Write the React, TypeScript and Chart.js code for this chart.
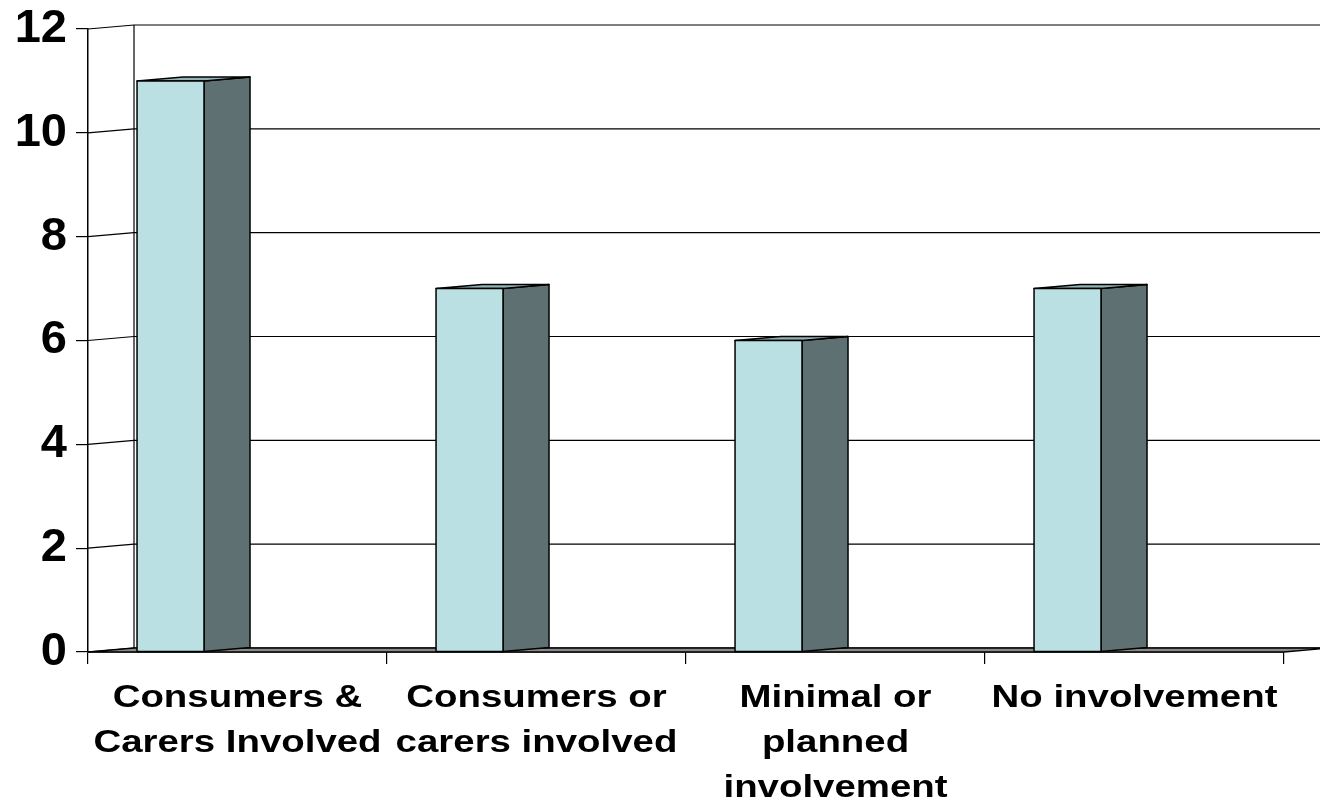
import React, { useEffect, useRef } from "react";
import { Chart, registerables } from "chart.js";

Chart.register(...registerables);

// ---- data ----
const categories: string[][] = [
  ["Consumers &", "Carers Involved"],
  ["Consumers or", "carers involved"],
  ["Minimal or", "planned", "involvement"],
  ["No involvement"],
];
const seriesValues: number[] = [11, 7, 6, 7];
const emptySeries: (number | null)[] = [null, null, null, null];
const yMin = 0;
const yMax = 12;
const yStep = 2;

const FONT = "'Liberation Sans', Arial, Helvetica, sans-serif";
const DX = 46;
const DY = 4;

const threeDPlugin = {
  id: "threeD",
  beforeDatasetsDraw(chart: any) {
    const { ctx, chartArea, scales } = chart;
    const y = scales.y;
    const left = chartArea.left;
    const right = chartArea.right;
    ctx.save();
    ctx.strokeStyle = "#000";
    ctx.lineWidth = 1.2;
    // back wall grid lines + side wall slants
    y.ticks.forEach((t: any) => {
      const fy = y.getPixelForValue(t.value);
      ctx.beginPath();
      ctx.moveTo(left, fy);
      ctx.lineTo(left + DX, fy - DY);
      ctx.lineTo(right + DX, fy - DY);
      ctx.stroke();
    });
    // back wall left edge
    const topY = y.getPixelForValue(yMax) - DY;
    const baseY = y.getPixelForValue(0);
    ctx.beginPath();
    ctx.moveTo(left + DX, topY);
    ctx.lineTo(left + DX, baseY - DY);
    ctx.stroke();
    // floor
    ctx.beginPath();
    ctx.moveTo(left, baseY);
    ctx.lineTo(right, baseY);
    ctx.lineTo(right + DX, baseY - DY);
    ctx.lineTo(left + DX, baseY - DY);
    ctx.closePath();
    ctx.fillStyle = "#8a8a8a";
    ctx.fill();
    ctx.lineWidth = 1.3;
    ctx.stroke();
    ctx.restore();
  },
  afterDatasetsDraw(chart: any) {
    const { ctx } = chart;
    const meta = chart.getDatasetMeta(0);
    ctx.save();
    ctx.lineWidth = 1.5;
    ctx.lineJoin = "round";
    ctx.strokeStyle = "#000";
    meta.data.forEach((bar: any) => {
      const p = bar.getProps(["x", "y", "width", "base"], true);
      const x0 = p.x - p.width / 2;
      const x1 = p.x + p.width / 2;
      const top = p.y;
      const base = p.base;
      // side face
      ctx.beginPath();
      ctx.moveTo(x1, top);
      ctx.lineTo(x1 + DX, top - DY);
      ctx.lineTo(x1 + DX, base - DY);
      ctx.lineTo(x1, base);
      ctx.closePath();
      ctx.fillStyle = "#5e7072";
      ctx.fill();
      ctx.stroke();
      // top face
      ctx.beginPath();
      ctx.moveTo(x0, top);
      ctx.lineTo(x0 + DX, top - DY);
      ctx.lineTo(x1 + DX, top - DY);
      ctx.lineTo(x1, top);
      ctx.closePath();
      ctx.fillStyle = "#93b2b5";
      ctx.fill();
      ctx.stroke();
      // front face
      ctx.beginPath();
      ctx.rect(x0, top, x1 - x0, base - top);
      ctx.fillStyle = "#bae0e3";
      ctx.fill();
      ctx.stroke();
    });
    ctx.restore();
  },
  afterDraw(chart: any) {
    const { ctx, scales } = chart;
    const x = scales.x;
    ctx.save();
    ctx.fillStyle = "#000";
    ctx.font = `bold 32px ${FONT}`;
    ctx.textAlign = "center";
    ctx.textBaseline = "alphabetic";
    categories.forEach((lines, i) => {
      const cx = x.getPixelForTick(i);
      lines.forEach((line, k) => {
        ctx.save();
        ctx.translate(cx, x.top + 55 + k * 45);
        ctx.scale(1.2, 1);
        ctx.fillText(line, 0, 0);
        ctx.restore();
      });
    });
    ctx.restore();
  },
};

export default function App() {
  const ref = useRef<HTMLCanvasElement | null>(null);
  useEffect(() => {
    if (!ref.current) return;
    const chart = new Chart(ref.current, {
      type: "bar",
      data: {
        labels: categories.map((c) => c.join(" ")),
        datasets: [
          {
            label: "Series 1",
            data: seriesValues,
            backgroundColor: "rgba(0,0,0,0)",
            borderWidth: 0,
          },
          {
            label: "Series 2",
            data: emptySeries,
            backgroundColor: "rgba(0,0,0,0)",
            borderWidth: 0,
          },
        ],
      },
      options: {
        animation: false,
        responsive: true,
        maintainAspectRatio: false,
        datasets: {
          bar: { categoryPercentage: 0.896, barPercentage: 0.5 },
        },
        layout: { padding: { top: 29, right: 36, left: 0, bottom: 0 } },
        plugins: {
          legend: { display: false },
          tooltip: { enabled: false },
        },
        scales: {
          x: {
            offset: true,
            grid: {
              offset: true,
              drawOnChartArea: false,
              drawTicks: true,
              tickLength: 12,
              color: "#000",
              lineWidth: 1.2,
            },
            border: { display: true, color: "#000", width: 1.5 },
            ticks: { display: false },
            afterFit: (s: any) => {
              s.height = 157;
            },
          },
          y: {
            min: yMin,
            max: yMax,
            ticks: {
              stepSize: yStep,
              color: "#000",
              padding: 9,
              font: { family: FONT, size: 47, weight: "bold" },
            },
            grid: {
              drawOnChartArea: false,
              drawTicks: true,
              tickLength: 12,
              color: "#000",
              lineWidth: 1.2,
            },
            border: { display: true, color: "#000", width: 1.5 },
            afterFit: (s: any) => {
              s.width = 88;
              s.paddingTop = 0;
              s.paddingBottom = 0;
            },
          },
        },
      },
      plugins: [threeDPlugin],
    });
    return () => chart.destroy();
  }, []);
  return (
    <div style={{ position: "absolute", left: 0, top: 0, width: 1320, height: 809, background: "#fff" }}>
      <canvas ref={ref} />
    </div>
  );
}
